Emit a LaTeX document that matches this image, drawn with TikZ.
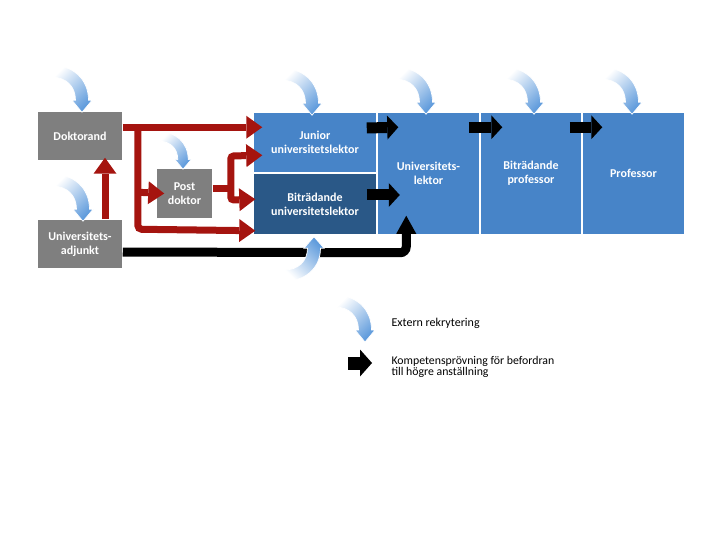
\documentclass[tikz,border=0pt]{standalone}
\usepackage{fontspec}
\setmainfont{Carlito}
\usetikzlibrary{arrows.meta,calc}
\definecolor{boxgray}{RGB}{127,127,127}
\definecolor{boxblue}{RGB}{71,132,200}
\definecolor{boxdark}{RGB}{42,88,135}
\definecolor{arrred}{RGB}{165,20,15}
\definecolor{arrowblue}{RGB}{95,155,220}
\begin{document}
\begin{tikzpicture}[x=1pt,y=-1pt,
  box/.style={draw=white, line width=1.5pt, text=white, align=center, inner sep=0pt,
    font=\bfseries\fontsize{12}{14}\selectfont},
  gbox/.style={box, fill=boxgray, draw=none},
  bbox/.style={box, fill=boxblue},
  dbox/.style={box, fill=boxdark},
  redline/.style={draw=arrred, line width=7pt},
  redarr/.style={redline, -{Triangle[length=16pt,width=23pt,line width=0pt]}},
  blkarr/.style={draw=black, line width=11pt, -{Triangle[length=11pt,width=24pt,line width=0pt]}},
  pics/recr/.style={code={
    \shade[top color=white, bottom color=arrowblue, shading angle=#1, draw=white, line width=0.7pt]
      (0,0) -- (10,-12) -- (6.5,-12) .. controls (6.5,-34) and (-10,-47) .. (-30,-47)
      -- (-30,-35) .. controls (-16,-35) and (-6.5,-26) .. (-6.5,-12) -- (-10,-12) -- cycle;}}
]
\useasboundingbox (0,0) rectangle (720,540);

% boxes
\node[gbox, minimum width=84pt, minimum height=48pt] (dok) at (80,136) {Doktorand};
\node[gbox, minimum width=84pt, minimum height=48pt] (adj) at (80,244) {Universitets-\\adjunkt};
\node[gbox, minimum width=55pt, minimum height=49pt] (post) at (184.5,193.5) {Post\\doktor};
\node[bbox, minimum width=124pt, minimum height=61pt] (jun) at (315,142.5) {Junior\\universitetslektor};
\node[dbox, minimum width=124pt, minimum height=62pt] (bul) at (315,204) {Biträdande\\universitetslektor};
\node[bbox, minimum width=103pt, minimum height=123pt] (ul) at (428.5,173.5) {Universitets-\\lektor};
\node[bbox, minimum width=102pt, minimum height=123pt] (bp) at (531,173.5) {Biträdande\\professor};
\node[bbox, minimum width=103pt, minimum height=123pt] (prof) at (633.5,173.5) {Professor};

% black arrows
\draw[draw=black, line width=9pt, rounded corners=6pt, -{Triangle[length=18pt,width=20pt,line width=0pt]}]
  ($(adj.east)+(0,8)$) -- ($(ul.south west)+(30,17)$) -- ($(ul.south west)+(30,-20)$);
\draw[blkarr] ($(jun.east)+(-11,-14.5)$) -- ($(ul.north west)+(22,16)$);
\draw[blkarr] ($(bul.east)+(-11,-9)$) -- ($(bul.east)+(22,-9)$);
\draw[blkarr] ($(ul.north east)+(-12,16)$) -- ($(bp.north west)+(23,16)$);
\draw[blkarr] ($(bp.north east)+(-13,16)$) -- ($(prof.north west)+(21,16)$);

% external recruitment arrows
\pic at ($(dok.north)+(2,1)$) {recr=45};
\pic at ($(adj.north)+(3,2)$) {recr=45};
\pic[scale=0.8] at ($(post.north)+(-1.5,1)$) {recr=45};
\pic at ($(jun.north)+(-3,4)$) {recr=45};
\pic at ($(ul.north)+(-2.5,3)$) {recr=45};
\pic at ($(bp.north)+(3,3)$) {recr=45};
\pic at ($(prof.north)+(-1.5,3)$) {recr=45};
\pic[yscale=-0.95] at ($(bul.south)+(-1,1)$) {recr=135};

% red arrows
\draw[redarr] ($(dok.north east)+(0,16)$) -- ($(jun.north west)+(10,16)$);
\draw[redarr, rounded corners=4pt] ($(dok.north east)+(15,16)$) -- ($(dok.north east)+(15,118)$) -- ($(bul.south west)+(3,-5)$);
\draw[redarr] ($(dok.north east)+(15,81)$) -- ($(post.west)+(8,0)$);
\draw[redline] ($(post.east)+(0,-5)$) -- ($(post.east)+(21.5,-5)$);
\draw[redline, rounded corners=3pt, {Triangle[length=16pt,width=23pt,line width=0pt]}-{Triangle[length=16pt,width=23pt,line width=0pt]}]
  ($(jun.north west)+(10,44)$) -- ($(post.east)+(18,-37.5)$) -- ($(post.east)+(18,6.5)$) -- ($(bul.north west)+(3,27)$);
\draw[redarr] ($(adj.north)+(25,0)$) -- ($(dok.south)+(25,-3)$);

% legend
\coordinate (lgr) at (365,342);
\pic at (lgr) {recr=45};
\node[anchor=west, font=\fontsize{12}{12}\selectfont] (t1) at (388,323) {Extern rekrytering};
\coordinate (la1) at (348,363);
\coordinate (la2) at (372,363);
\draw[draw=black, line width=13pt, -{Triangle[length=12pt,width=27pt,line width=0pt]}] (la1) -- (la2);
\node[anchor=west, align=left, font=\fontsize{11.8}{10.5}\selectfont] (t2) at (388,367) {Kompetensprövning för befordran\\till högre anställning};
\end{tikzpicture}
\end{document}
